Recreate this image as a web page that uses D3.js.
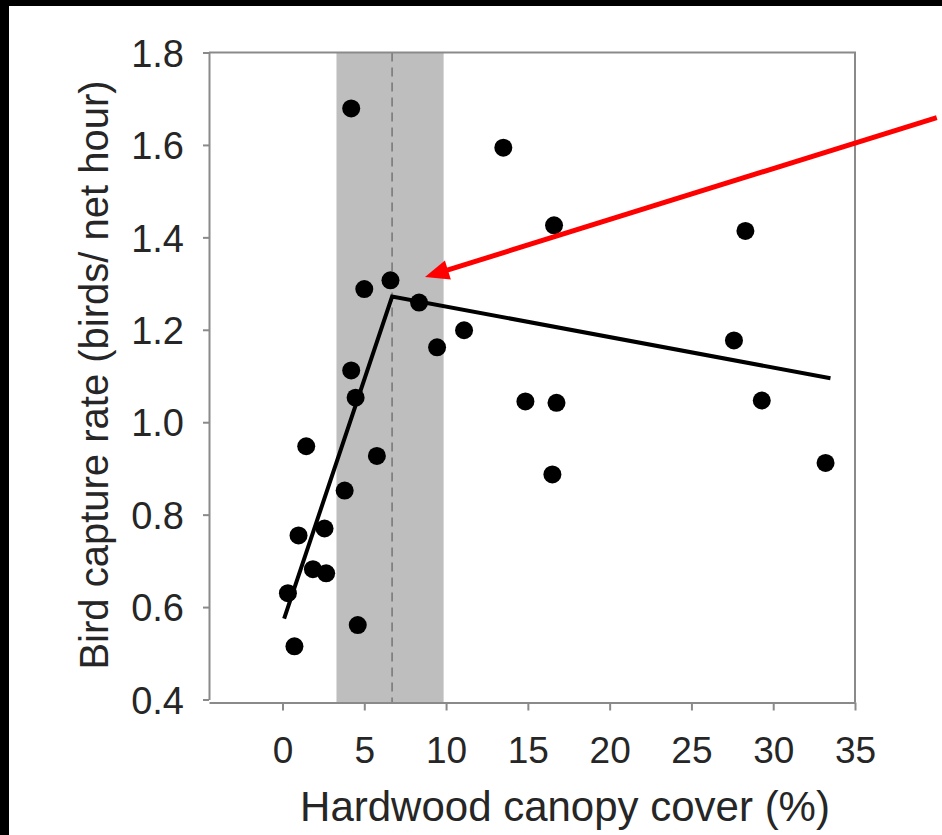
<!DOCTYPE html>
<html>
<head>
<meta charset="utf-8">
<script src="https://cdn.jsdelivr.net/npm/d3@7.9.0/dist/d3.min.js"></script>
<style>
  html, body { margin: 0; padding: 0; background: #000; }
  svg { display: block; }
  text { font-family: "Liberation Sans", Arial, sans-serif; fill: #262626; }
</style>
</head>
<body>
<svg id="chart" width="942" height="835"></svg>
<script>
// canopy cover (%) and capture rate for each site
const cover = [4.2, 6.6, 5.0, 8.35, 11.1, 9.45, 4.2, 4.47, 1.45, 5.77, 3.8, 2.57, 0.98, 1.86, 2.67, 0.33, 4.6, 0.73,
  13.5, 16.6, 28.3, 27.6, 14.85, 16.75, 29.3, 16.5, 33.2];
const rate = [1.679, 1.307, 1.288, 1.259, 1.199, 1.162, 1.112, 1.053, 0.948, 0.927, 0.852, 0.770, 0.755, 0.682, 0.673, 0.630, 0.561, 0.515,
  1.594, 1.426, 1.414, 1.177, 1.045, 1.042, 1.047, 0.887, 0.912];

// piecewise regression line
const fitX = [0.1, 6.7, 33.5];
const fitY = [0.575, 1.272, 1.095];

// breakpoint and its confidence band
const breakpoint = 6.7;
const band = [3.3, 9.85];

const xTicks = [0, 5, 10, 15, 20, 25, 30, 35];
const yTicks = [0.4, 0.6, 0.8, 1.0, 1.2, 1.4, 1.6, 1.8];

// annotation arrow (data units): tail, tip
const arrowFrom = [40.0, 1.659];
const arrowTo = [8.71, 1.314];

const svg = d3.select('#chart');

// white page inside the black frame
svg.append('rect').attr('x', 9).attr('y', 6).attr('width', 942 - 9).attr('height', 835 - 6).attr('fill', '#fff');

const x = d3.scaleLinear().domain([0, 35]).range([282.5, 855]);
const y = d3.scaleLinear().domain([0.4, 1.8]).range([699.5, 52.5]);
const xMin = x.invert(209);
const axisColor = '#8a8a8a';

// shaded band
svg.append('rect')
  .attr('x', x(band[0]))
  .attr('y', y(1.8))
  .attr('width', x(band[1]) - x(band[0]))
  .attr('height', y(0.4) + 3 - y(1.8))
  .attr('fill', '#bebebe');

// dashed breakpoint line
svg.append('line')
  .attr('x1', x(breakpoint)).attr('x2', x(breakpoint))
  .attr('y1', y(1.8)).attr('y2', y(0.4) + 3)
  .attr('stroke', '#7a7a7a')
  .attr('stroke-width', 1.6)
  .attr('stroke-dasharray', '9 6');

// frame top and right
svg.append('path')
  .attr('d', `M${x(xMin)},${y(1.8)}H${x(35)}V${y(0.4) + 3}`)
  .attr('fill', 'none')
  .attr('stroke', axisColor)
  .attr('stroke-width', 2);

// y axis
const yAxis = svg.append('g')
  .attr('transform', `translate(${x(xMin)},0)`)
  .call(d3.axisLeft(y).tickValues(yTicks).tickSize(6).tickSizeOuter(0).tickFormat(d3.format('.1f')));

// x axis
const xAxis = svg.append('g')
  .attr('transform', `translate(0,${y(0.4) + 3})`)
  .call(d3.axisBottom(x.copy().domain([xMin, 35]).range([x(xMin), 855])).tickValues(xTicks).tickSize(8).tickSizeOuter(0));

[yAxis, xAxis].forEach(g => {
  g.select('.domain').attr('stroke', axisColor).attr('stroke-width', 2);
  g.selectAll('.tick line').attr('stroke', axisColor).attr('stroke-width', 2);
  g.selectAll('.tick text').attr('fill', '#262626')
    .style('font-family', '"Liberation Sans", Arial, sans-serif');
});
yAxis.selectAll('.tick text').attr('font-size', 38).attr('x', -25).attr('dy', '0.36em');
xAxis.selectAll('.tick text').attr('font-size', 37).attr('y', 34).attr('dy', '0.71em');

// fit line
svg.append('path')
  .datum(fitX.map((d, i) => [d, fitY[i]]))
  .attr('d', d3.line().x(d => x(d[0])).y(d => y(d[1])))
  .attr('fill', 'none')
  .attr('stroke', '#000')
  .attr('stroke-width', 4);

// points
svg.append('g')
  .selectAll('circle')
  .data(cover.map((d, i) => [d, rate[i]]))
  .join('circle')
  .attr('cx', d => x(d[0]))
  .attr('cy', d => y(d[1]))
  .attr('r', 9)
  .attr('fill', '#000');

// axis titles
svg.append('text')
  .attr('x', 565)
  .attr('y', 821)
  .attr('text-anchor', 'middle')
  .attr('font-size', 42)
  .text('Hardwood canopy cover (%)');

svg.append('text')
  .attr('transform', 'translate(108,375) rotate(-90)')
  .attr('text-anchor', 'middle')
  .attr('font-size', 40)
  .text('Bird capture rate (birds/ net hour)');

// red arrow
const ax1 = x(arrowFrom[0]), ay1 = y(arrowFrom[1]);
const ax2 = x(arrowTo[0]), ay2 = y(arrowTo[1]);
const ang = Math.atan2(ay2 - ay1, ax2 - ax1);
const headLen = 24, headW = 10;
const bx = ax2 - headLen * Math.cos(ang), by = ay2 - headLen * Math.sin(ang);
svg.append('line')
  .attr('x1', ax1).attr('y1', ay1)
  .attr('x2', bx + 4 * Math.cos(ang)).attr('y2', by + 4 * Math.sin(ang))
  .attr('stroke', '#f00')
  .attr('stroke-width', 5);
svg.append('path')
  .attr('d', `M${ax2},${ay2}L${bx - headW * Math.sin(ang)},${by + headW * Math.cos(ang)}L${bx + headW * Math.sin(ang)},${by - headW * Math.cos(ang)}Z`)
  .attr('fill', '#f00');
</script>
</body>
</html>
